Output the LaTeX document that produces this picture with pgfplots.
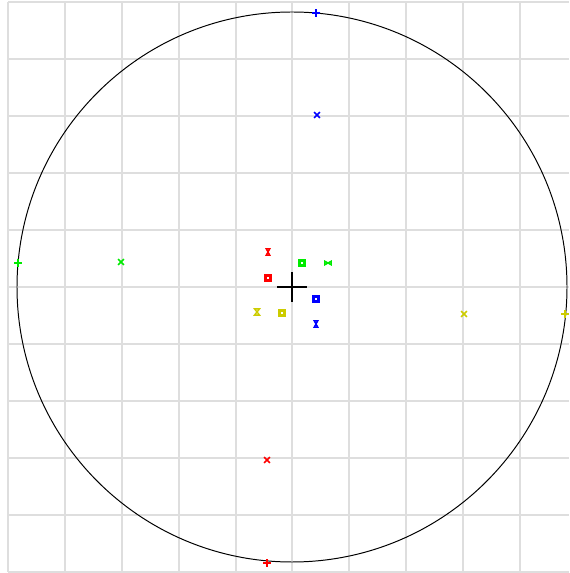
\documentclass[border=0pt]{standalone}
\usepackage{pgfplots}
\pgfplotsset{compat=1.18}
\definecolor{cred}{RGB}{255,0,0}
\definecolor{cgreen}{RGB}{0,235,0}
\definecolor{cblue}{RGB}{0,0,255}
\definecolor{cyellow}{RGB}{204,204,0}
\definecolor{gridgray}{RGB}{222,222,222}
\pgfdeclareplotmark{hourglass}{%
  \pgfpathmoveto{\pgfqpoint{-0.8\pgfplotmarksize}{\pgfplotmarksize}}%
  \pgfpathlineto{\pgfqpoint{0.8\pgfplotmarksize}{\pgfplotmarksize}}%
  \pgfpathlineto{\pgfqpoint{-0.8\pgfplotmarksize}{-\pgfplotmarksize}}%
  \pgfpathlineto{\pgfqpoint{0.8\pgfplotmarksize}{-\pgfplotmarksize}}%
  \pgfpathclose
  \pgfusepathqstroke}
\begin{document}
\begin{tikzpicture}
\begin{axis}[
  x=0.025cm, y=0.025cm,
  xmin=-284, xmax=277, ymin=-285, ymax=285,
  axis line style={draw=none},
  tick style={draw=none},
  xticklabels={}, yticklabels={},
  tick label style={overlay},
  xtick={-284,-227,-170,-113,-56,0,57,114,171,228},
  ytick={-285,-228,-171,-114,-57,0,57,114,171,228,285},
  grid=major,
  major grid style={gridgray, line width=0.9pt},
  clip=false,
  set layers,
]
\path (axis cs:-292,-286) rectangle (axis cs:277,287);
% circle
\pgfonlayer{axis grid}
\draw[black, line width=0.7pt] (axis cs:0,0) circle[radius=275];
\endpgfonlayer
% center cross
\addplot[black, line width=1pt] coordinates {(-15,0) (15,0)};
\addplot[black, line width=1pt] coordinates {(0,-15) (0,15)};
% plus markers on circle
\addplot[only marks, mark=+, mark size=2.7pt, cblue, mark options={line width=1.2pt}] coordinates {(24,274)};
\addplot[only marks, mark=+, mark size=2.7pt, cgreen, mark options={line width=1.2pt}] coordinates {(-274,24)};
\addplot[only marks, mark=+, mark size=2.7pt, cred, mark options={line width=1.2pt}] coordinates {(-25,-276)};
\addplot[only marks, mark=+, mark size=2.7pt, cyellow, mark options={line width=1.2pt}] coordinates {(273,-27)};
% x markers
\addplot[only marks, mark=x, mark size=2.9pt, cblue, mark options={line width=1.2pt}] coordinates {(25,172)};
\addplot[only marks, mark=x, mark size=2.9pt, cgreen, mark options={line width=1.2pt}] coordinates {(-171,25)};
\addplot[only marks, mark=x, mark size=2.9pt, cred, mark options={line width=1.2pt}] coordinates {(-25,-173)};
\addplot[only marks, mark=x, mark size=2.9pt, cyellow, mark options={line width=1.2pt}] coordinates {(172,-27)};
% hourglass markers
\addplot[only marks, mark=hourglass, mark size=2.2pt, cred, mark options={line width=1pt, xscale=0.7}] coordinates {(-24,35)};
\addplot[only marks, mark=hourglass, mark size=2.2pt, cgreen, mark options={line width=1pt, rotate=90, xscale=0.7}] coordinates {(36,24)};
\addplot[only marks, mark=hourglass, mark size=2.2pt, cblue, mark options={line width=1pt, xscale=0.7}] coordinates {(24,-37)};
\addplot[only marks, mark=hourglass, mark size=2.2pt, cyellow, mark options={line width=1pt}] coordinates {(-35,-25)};
% square markers
\addplot[only marks, mark=square, mark size=1.7pt, cred, mark options={line width=1.6pt}] coordinates {(-24,9)};
\addplot[only marks, mark=square, mark size=1.7pt, cgreen, mark options={line width=1.6pt}] coordinates {(10,24)};
\addplot[only marks, mark=square, mark size=1.7pt, cblue, mark options={line width=1.6pt}] coordinates {(24,-12)};
\addplot[only marks, mark=square, mark size=1.7pt, cyellow, mark options={line width=1.6pt}] coordinates {(-10,-26)};
\end{axis}
\end{tikzpicture}
\end{document}
